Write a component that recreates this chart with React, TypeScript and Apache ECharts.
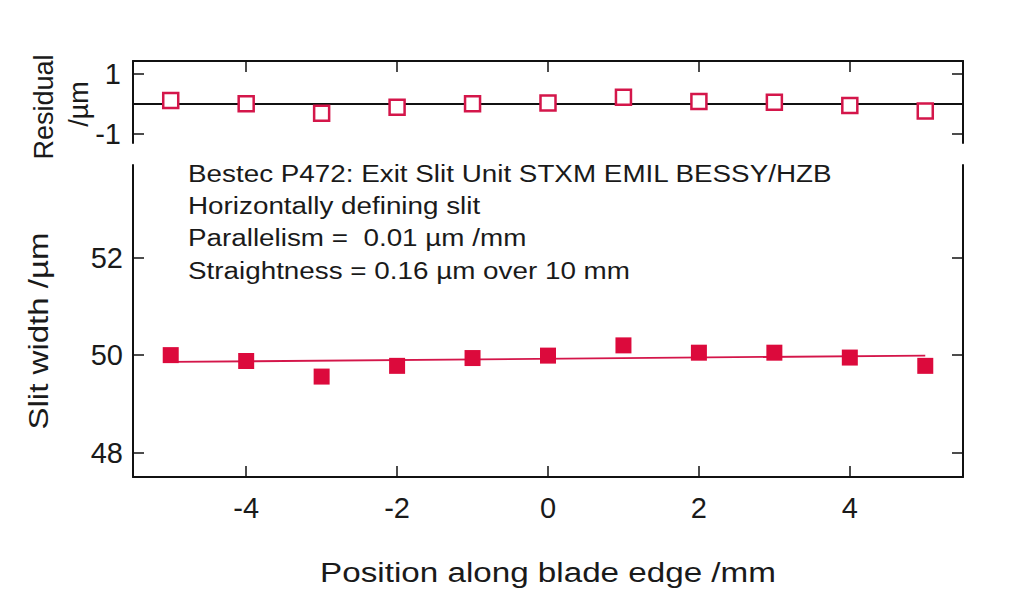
import React, { useEffect, useRef } from "react";
import * as echarts from "echarts";

const positions = [-5, -4, -3, -2, -1, 0, 1, 2, 3, 4, 5];
const slitWidth = [50.0, 49.88, 49.56, 49.78, 49.94, 49.99, 50.2, 50.05, 50.05, 49.95, 49.78];
const residuals = [0.11, 0.0, -0.31, -0.11, 0.0, 0.03, 0.22, 0.08, 0.05, -0.06, -0.24];
const fitX = [-5, 5];
const fitY = [49.86, 49.99];
const xTicks = [-4, -2, 0, 2, 4];
const residualTicks = [-1, 1];
const widthTicks = [48, 50, 52];
const annotation = [
  "Bestec P472: Exit Slit Unit STXM EMIL BESSY/HZB",
  "Horizontally defining slit",
  "Parallelism =  0.01 µm /mm",
  "Straightness = 0.16 µm over 10 mm",
];

const RED = "#dc0a3c";
const RED_OPEN = "#d4164a";
const INK = "#111";
const TEXT = "#1a1a1a";
const FONT = "'Liberation Sans', Arial, Helvetica, sans-serif";

export default function App() {
  const ref = useRef<HTMLDivElement>(null);
  useEffect(() => {
    if (!ref.current) return;
    const chart = echarts.init(ref.current, null, { renderer: "svg" });
    const axisLine = { show: true, onZero: false, lineStyle: { color: INK, width: 2 } };
    const tick = (vals: number[]) => ({
      show: true,
      inside: true,
      length: 11,
      customValues: vals,
      lineStyle: { color: INK, width: 1.5 },
    });
    const label = (vals: number[], show: boolean, margin: number) => ({
      show,
      customValues: vals,
      fontSize: 29,
      color: TEXT,
      fontFamily: FONT,
      margin,
    });
    const option: any = {
      animation: false,
      backgroundColor: "#fff",
      grid: [
        { left: 133, right: 61, top: 61, height: 82 },
        { left: 133, right: 61, top: 165, height: 312 },
      ],
      xAxis: [
        {
          gridIndex: 0, type: "value", position: "top", min: -5.5, max: 5.5,
          axisLine, axisTick: tick(xTicks), axisLabel: label(xTicks, false, 8), splitLine: { show: false },
        },
        {
          gridIndex: 1, type: "value", position: "bottom", min: -5.5, max: 5.5,
          axisLine, axisTick: tick(xTicks), axisLabel: label(xTicks, true, 16), splitLine: { show: false },
        },
      ],
      yAxis: [
        {
          gridIndex: 0, type: "value", position: "left", min: -1.3, max: 1.42,
          axisLine, axisTick: tick(residualTicks), axisLabel: label(residualTicks, true, 12), splitLine: { show: false },
        },
        {
          gridIndex: 0, type: "value", position: "right", min: -1.3, max: 1.42,
          axisLine, axisTick: tick(residualTicks), axisLabel: label(residualTicks, false, 8), splitLine: { show: false },
        },
        {
          gridIndex: 1, type: "value", position: "left", min: 47.5, max: 53.9,
          axisLine, axisTick: tick(widthTicks), axisLabel: label(widthTicks, true, 10), splitLine: { show: false },
        },
        {
          gridIndex: 1, type: "value", position: "right", min: 47.5, max: 53.9,
          axisLine, axisTick: tick(widthTicks), axisLabel: label(widthTicks, false, 8), splitLine: { show: false },
        },
      ],
      series: [
        {
          type: "scatter",
          xAxisIndex: 0,
          yAxisIndex: 0,
          symbol: "rect",
          symbolSize: 15,
          itemStyle: { color: "#fff", borderColor: RED_OPEN, borderWidth: 2.5, opacity: 1 },
          data: positions.map((x, i) => [x, residuals[i]]),
          z: 3,
          markLine: {
            silent: true,
            symbol: "none",
            label: { show: false },
            lineStyle: { color: INK, width: 2, type: "solid", opacity: 1 },
            data: [{ yAxis: 0 }],
            z: 1,
          },
        },
        {
          type: "line",
          xAxisIndex: 1,
          yAxisIndex: 2,
          showSymbol: false,
          symbol: "none",
          lineStyle: { color: RED_OPEN, width: 1.8 },
          data: fitX.map((x, i) => [x, fitY[i]]),
          z: 2,
        },
        {
          type: "scatter",
          xAxisIndex: 1,
          yAxisIndex: 2,
          symbol: "rect",
          symbolSize: 16,
          itemStyle: { color: RED, opacity: 1 },
          data: positions.map((x, i) => [x, slitWidth[i]]),
          z: 3,
        },
      ],
      graphic: [
        ...annotation.map((t, i) => ({
          type: "text",
          x: 188,
          y: [174, 206, 238, 271][i],
          scaleX: 1.21,
          style: {
            text: t,
            fontSize: 23,
            fontFamily: FONT,
            fill: TEXT,
            textAlign: "left",
            textVerticalAlign: "middle",
          },
        })),
        {
          type: "text",
          x: 548,
          y: 573,
          scaleX: 1.23,
          style: {
            text: "Position along blade edge /mm",
            fontSize: 27,
            fontFamily: FONT,
            fill: TEXT,
            textAlign: "center",
            textVerticalAlign: "middle",
          },
        },
        {
          type: "text",
          x: 38,
          y: 331,
          rotation: Math.PI / 2,
          scaleX: 1.18,
          style: {
            text: "Slit width /µm",
            fontSize: 28,
            fontFamily: FONT,
            fill: TEXT,
            textAlign: "center",
            textVerticalAlign: "middle",
          },
        },
        {
          type: "text",
          x: 44,
          y: 107,
          rotation: Math.PI / 2,
          style: {
            text: "Residual",
            fontSize: 27,
            fontFamily: FONT,
            fill: TEXT,
            textAlign: "center",
            textVerticalAlign: "middle",
          },
        },
        {
          type: "text",
          x: 79,
          y: 104,
          rotation: Math.PI / 2,
          style: {
            text: "/µm",
            fontSize: 27,
            fontFamily: FONT,
            fill: TEXT,
            textAlign: "center",
            textVerticalAlign: "middle",
          },
        },
      ],
    };
    chart.setOption(option);
    return () => chart.dispose();
  }, []);
  return (
    <div
      ref={ref}
      style={{ position: "fixed", left: 0, top: 0, width: 1024, height: 589, background: "#fff" }}
    />
  );
}
